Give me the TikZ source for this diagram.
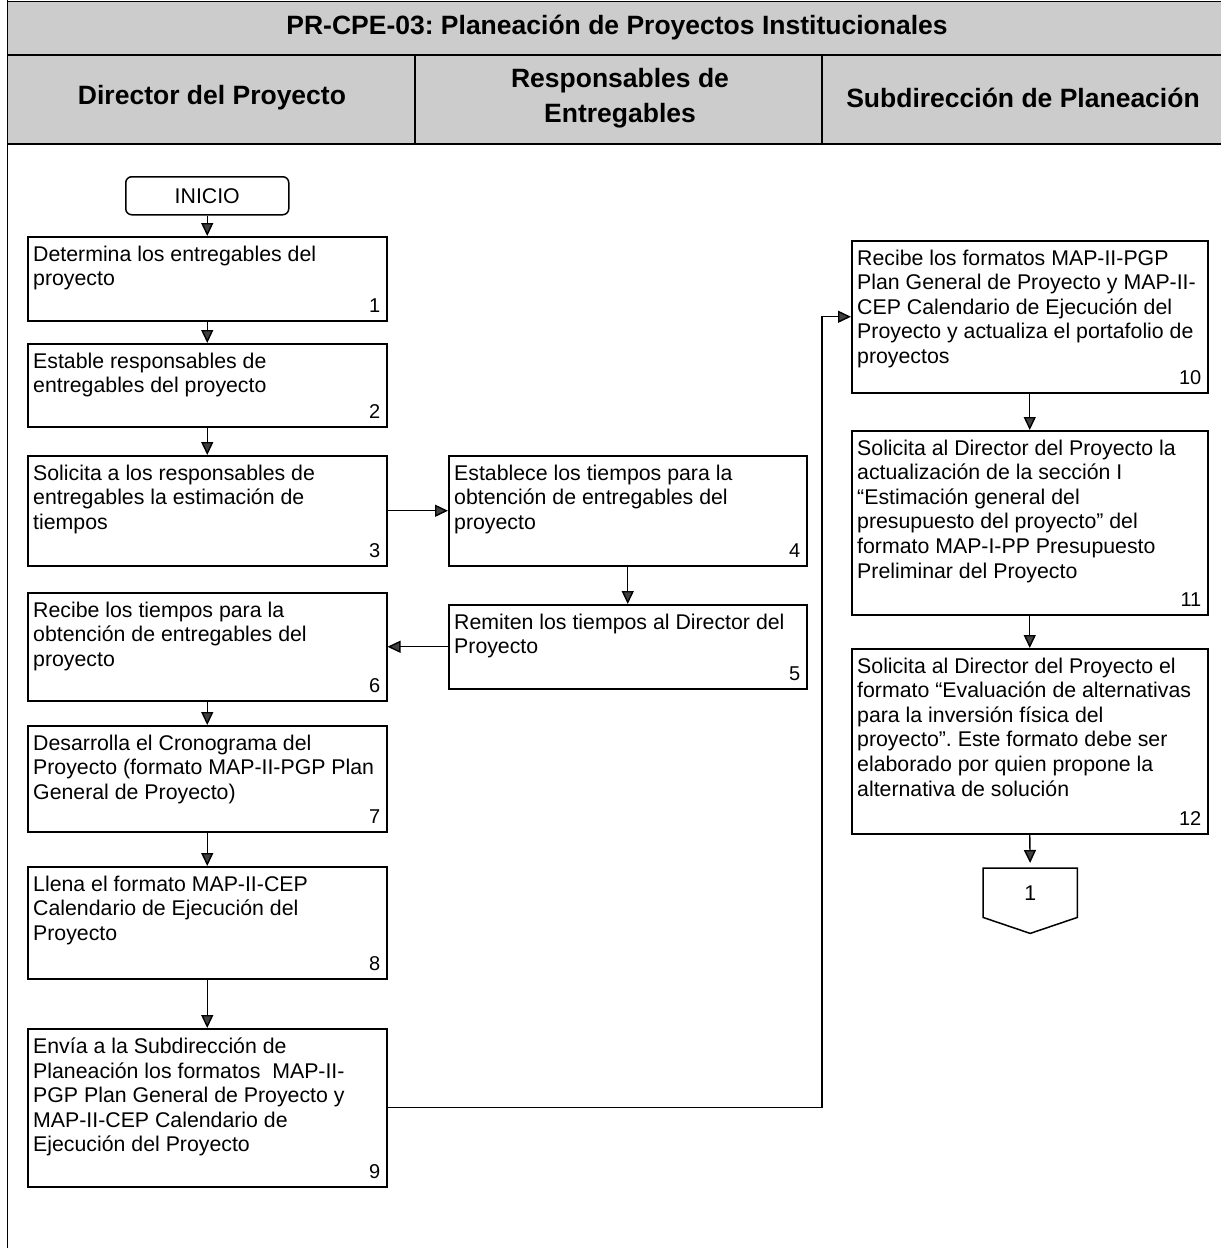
\documentclass[tikz,border=0pt]{standalone}
\usepackage{fontspec}
\setmainfont{Liberation Sans}
\usetikzlibrary{arrows.meta}

% process box: name, left x, top y, width, height, text, step number
\newcommand\procstep[7]{%
  \node[procbox, minimum width=#4pt, minimum height=#5pt] (#1) at (#2,#3) {};
  \node[boxtext, xshift=6pt, yshift=-9.5pt] (#1t) at (#1.north west) {#6};
  \node[boxnum, xshift=-7pt, yshift=9pt] (#1n) at (#1.south east) {#7};}

\begin{document}
\frenchspacing
\begin{tikzpicture}[x=1pt, y=-1pt,
  procbox/.style={draw, line width=1.5pt, fill=white, anchor=north west, inner sep=0pt},
  boxtext/.style={anchor=north west, align=left, inner sep=0pt,
    font=\fontsize{21.3}{24.6}\selectfont},
  boxnum/.style={anchor=south east, inner sep=0pt, font=\fontsize{20}{24}\selectfont},
  hdr/.style={align=center, inner sep=0pt, font=\fontsize{26.5}{35}\selectfont\bfseries},
  flow/.style={line width=1.4pt, -{Triangle[width=12pt,length=13pt,fill=black!75]}},
  rule/.style={line width=1.6pt}]

\useasboundingbox (0,0) rectangle (1221,1248);
\fill[white] (0,0) rectangle (1221,1248);

% header band
\fill[black!20] (7.5,1.5) rectangle (1221,144);
\draw[line width=0.8pt] (7.5,1.5) -- (1221,1.5);
\draw[rule] (7.5,55) -- (1221,55);
\draw[rule] (7.5,144) -- (1221,144);
\draw[rule] (415,55) -- (415,144);
\draw[rule] (822,55) -- (822,144);
\draw[rule] (7.5,0) -- (7.5,1248);

\node[hdr] (title) at (617,28) {PR-CPE-03: Planeación de Proyectos Institucionales};
\node[hdr] (lane1) at (212,98) {Director del Proyecto};
\node[hdr] (lane2) at (620,98) {Responsables de\\Entregables};
\node[hdr] (lane3) at (1023,98) {Subdirección de Planeación};

% start
\node[draw, line width=1.5pt, rounded corners=6pt, anchor=north west,
  minimum width=163pt, minimum height=38pt, inner sep=0pt,
  font=\fontsize{21.3}{24}\selectfont] (ini) at (125,176) {INICIO};

% Director del Proyecto
\procstep{b1}{27}{236}{359}{84}{Determina los entregables del\\proyecto}{1}
\procstep{b2}{27}{343}{359}{83}{Estable responsables de\\entregables del proyecto}{2}
\procstep{b3}{27}{455}{359}{110}{Solicita a los responsables de\\entregables la estimación de\\tiempos}{3}
\procstep{b6}{27}{592}{359}{108}{Recibe los tiempos para la\\obtención de entregables del\\proyecto}{6}
\procstep{b7}{27}{725}{359}{106}{Desarrolla el Cronograma del\\Proyecto (formato MAP-II-PGP Plan\\General de Proyecto)}{7}
\procstep{b8}{27}{866}{359}{112}{Llena el formato MAP-II-CEP\\Calendario de Ejecución del\\Proyecto}{8}
\procstep{b9}{27}{1028}{359}{158}{Envía a la Subdirección de\\Planeación los formatos\ \ MAP-II-\\PGP Plan General de Proyecto y\\MAP-II-CEP Calendario de\\Ejecución del Proyecto}{9}

% Responsables de Entregables
\procstep{b4}{448}{455}{358}{110}{Establece los tiempos para la\\obtención de entregables del\\proyecto}{4}
\procstep{b5}{448}{604}{358}{84}{Remiten los tiempos al Director del\\Proyecto}{5}

% Subdirección de Planeación
\procstep{b10}{851}{240}{356}{152}{Recibe los formatos MAP-II-PGP\\Plan General de Proyecto y MAP-II-\\CEP Calendario de Ejecución del\\Proyecto y actualiza el portafolio de\\proyectos}{10}
\procstep{b11}{851}{430}{356}{184}{Solicita al Director del Proyecto la\\actualización de la sección I\\“Estimación general del\\presupuesto del proyecto” del\\formato MAP-I-PP Presupuesto\\Preliminar del Proyecto}{11}
\procstep{b12}{851}{648}{356}{185}{Solicita al Director del Proyecto el\\formato “Evaluación de alternativas\\para la inversión física del\\proyecto”. Este formato debe ser\\elaborado por quien propone la\\alternativa de solución}{12}

% off-page connector
\node[anchor=north west, minimum width=94pt, minimum height=49pt, inner sep=0pt,
  font=\fontsize{21.3}{24}\selectfont] (c1) at (983,868) {1};
\draw[line width=1.5pt] (c1.north west) -- (c1.north east) -- (c1.south east)
  -- ([yshift=-16pt]c1.south) -- (c1.south west) -- cycle;

% connectors
\draw[flow] (ini.south) -- (b1.north);
\draw[flow] (b1.south) -- (b2.north);
\draw[flow] (b2.south) -- (b3.north);
\draw[flow] (b3.east) -- (b4.west);
\draw[flow] (b4.south) -- (b5.north);
\draw[flow] (b5.west) -- (b5.west -| b6.east);
\draw[flow] (b6.south) -- (b7.north);
\draw[flow] (b7.south) -- (b8.north);
\draw[flow] (b8.south) -- (b9.north);
\coordinate (bend) at (822,0);
\draw[flow] (b9.east) -- (b9.east -| bend) |- (b10.west);
\draw[flow] (b10.south) -- (b11.north);
\draw[flow] (b11.south) -- (b12.north);
\draw[flow, shorten >=5pt] (b12.south) -- (c1.north);
\end{tikzpicture}
\end{document}
